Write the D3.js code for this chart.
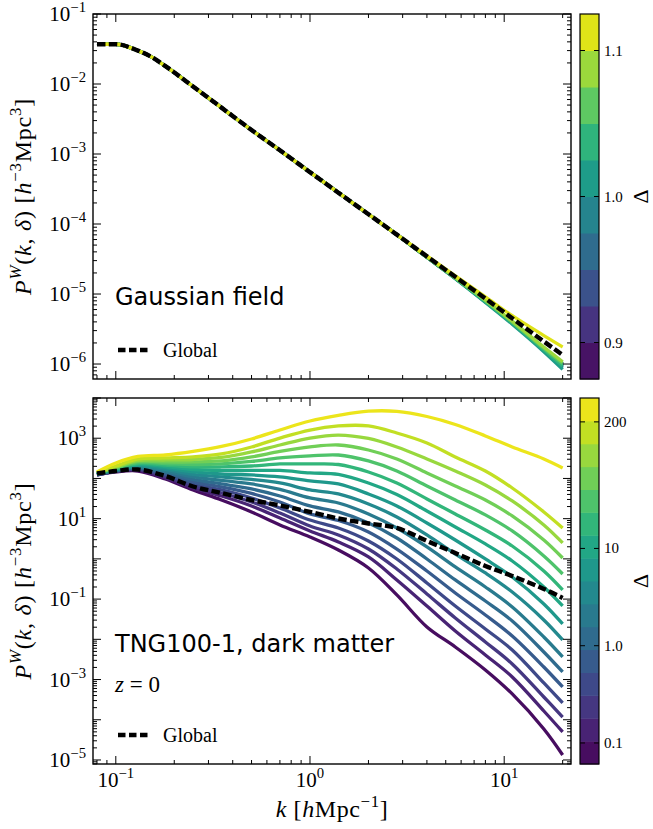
<!DOCTYPE html>
<html><head><meta charset="utf-8">
<script src="https://cdn.jsdelivr.net/npm/d3@7"></script>
<style>body{margin:0;background:#fff}svg{display:block}</style>
</head><body><svg id="c" width="653" height="829"></svg>
<script>
// ---------------- DATA ----------------
const kTop = [0.08, 0.1, 0.13, 0.15, 0.18, 0.25, 0.35, 0.5, 0.7, 1.0, 1.4, 2.0, 2.8, 4.0, 5.6, 8.0, 11, 16, 20];
const globalTop = [0.037, 0.037, 0.030, 0.025, 0.018, 0.0092, 0.0046, 0.0022, 0.00113, 0.00055, 0.00028, 0.000138, 0.0000705, 0.0000345, 0.0000176, 0.0000086, 0.0000045, 0.0000021, 0.00000135];
const topC0 = [0.037, 0.037, 0.030, 0.025, 0.018, 0.0092, 0.0046, 0.0022, 0.00113, 0.00055, 0.00028, 0.000138, 0.0000705, 3.38e-5, 1.70e-5, 8.0e-6, 4.0e-6, 1.66e-6, 1.0e-6];
const topC1 = [0.037, 0.037, 0.030, 0.025, 0.018, 0.0092, 0.0046, 0.0022, 0.00113, 0.00055, 0.00028, 0.000138, 0.0000705, 3.38e-5, 1.70e-5, 7.9e-6, 3.95e-6, 1.65e-6, 9.8e-7];
const topC2 = [0.037, 0.037, 0.030, 0.025, 0.018, 0.0092, 0.0046, 0.0022, 0.00113, 0.00055, 0.00028, 0.000138, 0.0000705, 3.37e-5, 1.69e-5, 7.9e-6, 3.9e-6, 1.62e-6, 9.5e-7];
const topC3 = [0.037, 0.037, 0.030, 0.025, 0.018, 0.0092, 0.0046, 0.0022, 0.00113, 0.00055, 0.00028, 0.000138, 0.0000705, 3.36e-5, 1.68e-5, 7.8e-6, 3.85e-6, 1.6e-6, 9.2e-7];
const topC4 = [0.037, 0.037, 0.030, 0.025, 0.018, 0.0092, 0.0046, 0.0022, 0.00113, 0.00055, 0.00028, 0.000138, 0.0000705, 3.35e-5, 1.67e-5, 7.7e-6, 3.8e-6, 1.56e-6, 8.9e-7];
const topC5 = [0.037, 0.037, 0.030, 0.025, 0.018, 0.0092, 0.0046, 0.0022, 0.00113, 0.00055, 0.00028, 0.000138, 0.0000705, 3.33e-5, 1.66e-5, 7.6e-6, 3.7e-6, 1.5e-6, 8.4e-7];
const topC6 = [0.037, 0.037, 0.030, 0.025, 0.018, 0.0092, 0.0046, 0.0022, 0.00113, 0.00055, 0.00028, 0.000138, 0.0000705, 3.35e-5, 1.68e-5, 7.8e-6, 3.85e-6, 1.6e-6, 9.4e-7];
const topC7 = [0.037, 0.037, 0.030, 0.025, 0.018, 0.0092, 0.0046, 0.0022, 0.00113, 0.00055, 0.00028, 0.000138, 0.0000705, 3.38e-5, 1.70e-5, 8.0e-6, 4.0e-6, 1.68e-6, 1.02e-6];
const topC8 = [0.037, 0.037, 0.030, 0.025, 0.018, 0.0092, 0.0046, 0.0022, 0.00113, 0.00055, 0.00028, 0.000138, 0.0000705, 3.4e-5, 1.72e-5, 8.2e-6, 4.1e-6, 1.75e-6, 1.08e-6];
const topC9 = [0.037, 0.037, 0.030, 0.025, 0.018, 0.0092, 0.0046, 0.0022, 0.00113, 0.00055, 0.00028, 0.000138, 0.0000705, 3.5e-5, 1.82e-5, 9.1e-6, 4.9e-6, 2.55e-6, 1.75e-6];
const topCurves = [topC0, topC1, topC2, topC3, topC4, topC5, topC6, topC7, topC8, topC9];
const topDeltaRange = [0.875, 1.125];
const topTickVals = [0.9, 1.0, 1.1];
const topTickLabels = ["0.9", "1.0", "1.1"];

const kBot = [0.08, 0.1, 0.13, 0.18, 0.25, 0.35, 0.5, 0.7, 1.0, 1.4, 2.0, 2.8, 4.0, 5.6, 8.0, 11, 16, 20];
const globalBot = [133, 153, 167, 115, 63.1, 43.5, 29.1, 21.3, 14.7, 10.1, 7.59, 5.87, 2.79, 1.40, 0.666, 0.376, 0.179, 0.107];
const botC0 = [122, 145, 153, 97.0, 51.7, 29.1, 14.7, 6.97, 3.50, 1.66, 0.594, 0.127, 0.0203, 0.00645, 0.00173, 0.000438, 0.0000590, 0.0000133];
const botC1 = [122, 149, 162, 103, 57.9, 36.6, 20.7, 10.4, 4.94, 2.63, 1.12, 0.299, 0.0674, 0.0161, 0.00408, 0.00116, 0.000165, 0.0000497];
const botC2 = [122, 149, 167, 112, 64.9, 43.5, 26.0, 13.8, 6.58, 3.93, 1.76, 0.561, 0.134, 0.0339, 0.00859, 0.00244, 0.000368, 0.000117];
const botC3 = [122, 153, 172, 122, 72.8, 51.7, 32.7, 18.4, 9.27, 5.87, 2.79, 0.994, 0.252, 0.0674, 0.0181, 0.00543, 0.000821, 0.000261];
const botC4 = [126, 153, 182, 129, 81.7, 61.3, 42.3, 26.0, 13.1, 9.01, 4.67, 1.76, 0.500, 0.142, 0.0403, 0.0121, 0.00205, 0.000653];
const botC5 = [126, 158, 187, 141, 94.2, 72.8, 54.7, 36.6, 20.7, 14.7, 7.81, 3.31, 0.994, 0.299, 0.0898, 0.0286, 0.00484, 0.00154];
const botC6 = [126, 162, 193, 153, 109, 89.0, 72.8, 53.2, 32.7, 24.5, 13.1, 5.87, 1.98, 0.629, 0.200, 0.0637, 0.0114, 0.00364];
const botC7 = [129, 162, 198, 167, 126, 109, 94.2, 77.1, 51.7, 41.1, 23.2, 11.0, 3.93, 1.32, 0.446, 0.150, 0.0303, 0.00963];
const botC8 = [129, 167, 210, 182, 145, 129, 122, 109, 86.5, 72.8, 41.1, 20.7, 7.81, 2.95, 0.994, 0.355, 0.0756, 0.0241];
const botC9 = [129, 172, 223, 198, 167, 158, 158, 158, 137, 126, 77.1, 39.9, 15.5, 6.21, 2.35, 0.887, 0.200, 0.0674];
const botC10 = [133, 177, 235, 216, 193, 193, 204, 229, 229, 222, 145, 77.1, 30.9, 13.1, 5.23, 2.09, 0.500, 0.169];
const botC11 = [133, 182, 249, 235, 222, 229, 264, 323, 362, 383, 272, 153, 64.9, 29.1, 12.4, 4.94, 1.18, 0.421];
const botC12 = [137, 187, 264, 257, 257, 272, 342, 468, 606, 679, 510, 305, 137, 64.9, 29.1, 11.7, 2.95, 1.05];
const botC13 = [137, 193, 280, 288, 296, 332, 455, 679, 1010, 1200, 985, 606, 305, 153, 68.8, 27.5, 6.97, 2.49];
const botC14 = [141, 204, 305, 323, 342, 406, 606, 1010, 1600, 2020, 2020, 1350, 762, 342, 153, 57.9, 14.7, 5.87];
const botC15 = [145, 242, 352, 383, 468, 623, 957, 1600, 2680, 3700, 4700, 4650, 3470, 2200, 1140, 606, 305, 182];
const botCurves = [botC0, botC1, botC2, botC3, botC4, botC5, botC6, botC7, botC8, botC9, botC10, botC11, botC12, botC13, botC14, botC15];
const botDeltaRange = [0.0608, 352];
const botTickVals = [0.1, 1, 10, 200];
const botTickLabels = ["0.1", "1.0", "10", "200"];

const xMajor = [0.1, 1, 10];
const xMajorExp = [-1, 0, 1];
const topYLabelExp = [-6, -5, -4, -3, -2, -1];
const botYLabelExp = [-5, -3, -1, 1, 3];

// ---------------- LAYOUT ----------------
const svg = d3.select("#c");
const SERIF = "'Liberation Serif', 'DejaVu Serif', serif";
const SANS = "'DejaVu Sans', sans-serif";
const L = 93, R = 571, T1 = 14, B1 = 379, T2 = 398, B2 = 764, CBL = 580, CBR = 599;

const x = d3.scaleLog().domain([0.07631, 22.08]).range([L, R]);
const yTop = d3.scaleLog().domain([6.11e-7, 0.1]).range([B1, T1]);
const yBot = d3.scaleLog().domain([7.94e-6, 1e4]).range([B2, T2]);

svg.append("rect").attr("width", 653).attr("height", 829).attr("fill", "#fff");

function richText(sel, parts, size) {
  let up = 0;
  parts.forEach(p => {
    const ts = sel.append("tspan").text(p.t);
    const target = p.sup ? -0.42 * size : 0;
    if (target !== up) { ts.attr("dy", target - up); up = target; }
    if (p.sup) ts.attr("font-size", size * 0.7);
    if (p.i) ts.attr("font-style", "italic");
  });
}
function expStr(e) { return e < 0 ? "\u2212" + (-e) : String(e); }

function minorsFor(lo, hi) {
  const out = [];
  for (let e = Math.floor(Math.log10(lo)) - 1; e <= Math.ceil(Math.log10(hi)); e++) {
    for (let m = 2; m <= 9; m++) { const v = m * Math.pow(10, e); if (v > lo && v < hi) out.push(v); }
  }
  return out;
}
function majorsFor(lo, hi) {
  const out = [];
  for (let e = Math.floor(Math.log10(lo)); e <= Math.ceil(Math.log10(hi)); e++) {
    const v = Math.pow(10, e); if (v >= lo * 0.999 && v <= hi * 1.001) out.push(v);
  }
  return out;
}

function drawPanel(y, T, B, curves, kArr, globalArr, nBins, id, curveType) {
  const g = svg.append("g");
  g.append("clipPath").attr("id", id).append("rect").attr("x", L).attr("y", T).attr("width", R - L).attr("height", B - T);
  const line = d3.line().x((d) => x(d[0])).y(d => y(d[1])).curve(curveType);
  const lg = g.append("g").attr("clip-path", `url(#${id})`);
  curves.forEach((arr, i) => {
    lg.append("path").attr("d", line(kArr.map((k, j) => [k, arr[j]])))
      .attr("fill", "none").attr("stroke", d3.interpolateViridis((i + 0.5) / nBins))
      .attr("stroke-width", 3.3).attr("stroke-linejoin", "round");
  });
  lg.append("path").attr("d", line(kArr.map((k, j) => [k, globalArr[j]])))
    .attr("fill", "none").attr("stroke", "#000").attr("stroke-width", 4.4)
    .attr("stroke-dasharray", "8.5,3.3");

  // ticks
  const tg = g.append("g").attr("stroke", "#000").attr("stroke-width", 1);
  const xd = x.domain(), yd = y.domain();
  const xt = (vals, len) => vals.forEach(v => {
    const px = x(v);
    tg.append("line").attr("x1", px).attr("x2", px).attr("y1", B).attr("y2", B - len);
    tg.append("line").attr("x1", px).attr("x2", px).attr("y1", T).attr("y2", T + len);
  });
  const yt = (vals, len) => vals.forEach(v => {
    const py = y(v);
    tg.append("line").attr("y1", py).attr("y2", py).attr("x1", L).attr("x2", L + len);
    tg.append("line").attr("y1", py).attr("y2", py).attr("x1", R).attr("x2", R - len);
  });
  xt(majorsFor(xd[0], xd[1]), 8);
  xt(minorsFor(xd[0], xd[1]), 4);
  yt(majorsFor(yd[0], yd[1]), 8);
  yt(minorsFor(yd[0], yd[1]), 4);

  g.append("rect").attr("x", L).attr("y", T).attr("width", R - L).attr("height", B - T)
    .attr("fill", "none").attr("stroke", "#000").attr("stroke-width", 1.4);
  return g;
}

function yLabels(y, exps) {
  exps.forEach(e => {
    const t = svg.append("text").attr("x", 86).attr("y", y(Math.pow(10, e)) + 7)
      .attr("text-anchor", "end").attr("font-family", SERIF).attr("font-size", 21);
    richText(t, [{ t: "10" }, { t: expStr(e), sup: true }], 21);
  });
}
function yAxisTitle(cy) {
  const t = svg.append("text").attr("transform", `translate(31,${cy}) rotate(-90)`)
    .attr("text-anchor", "middle").attr("font-family", SERIF).attr("font-size", 24)
    .attr("letter-spacing", 0.8);
  richText(t, [{ t: "P", i: true }, { t: "W", i: true, sup: true }, { t: "(" }, { t: "k", i: true },
    { t: ", " }, { t: "\u03b4", i: true }, { t: ")  [" }, { t: "h", i: true }, { t: "\u22123", sup: true },
    { t: "Mpc" }, { t: "3", sup: true }, { t: "]" }], 24);
}

function legend(yc) {
  svg.append("line").attr("x1", 118).attr("x2", 147.5).attr("y1", yc).attr("y2", yc)
    .attr("stroke", "#000").attr("stroke-width", 4.4).attr("stroke-dasharray", "7.5,3.5");
  svg.append("text").attr("x", 163).attr("y", yc + 6.5).attr("font-family", SERIF)
    .attr("font-size", 20).text("Global");
}

function colorbar(T, B, scale, nBins, edgesVal, tickVals, tickLabels, labelY) {
  const g = svg.append("g");
  for (let i = 0; i < nBins; i++) {
    const y0 = scale(edgesVal[i]), y1 = scale(edgesVal[i + 1]);
    g.append("rect").attr("x", CBL).attr("width", CBR - CBL).attr("y", Math.min(y0, y1))
      .attr("height", Math.abs(y1 - y0) + 0.5).attr("fill", d3.interpolateViridis((i + 0.5) / nBins));
  }
  g.append("rect").attr("x", CBL).attr("y", T).attr("width", CBR - CBL).attr("height", B - T)
    .attr("fill", "none").attr("stroke", "#000").attr("stroke-width", 1.2);
  tickVals.forEach((v, i) => {
    const py = scale(v);
    g.append("line").attr("x1", CBL).attr("x2", CBL + 5).attr("y1", py).attr("y2", py).attr("stroke", "#000").attr("stroke-width", 1);
    g.append("line").attr("x1", CBR).attr("x2", CBR - 5).attr("y1", py).attr("y2", py).attr("stroke", "#000").attr("stroke-width", 1);
    g.append("text").attr("x", 604).attr("y", py + 5).attr("font-family", SERIF).attr("font-size", 15).text(tickLabels[i]);
  });
  svg.append("text").attr("transform", `translate(648,${labelY}) rotate(-90)`).attr("text-anchor", "middle")
    .attr("font-family", SERIF).attr("font-size", 22).text("\u0394");
}

// ---------------- TOP PANEL ----------------
drawPanel(yTop, T1, B1, topCurves, kTop, globalTop, 10, "clipTop", d3.curveMonotoneX);
yLabels(yTop, topYLabelExp);
yAxisTitle((T1 + B1) / 2);
svg.append("text").attr("x", 115).attr("y", 305).attr("font-family", SANS).attr("font-size", 24).text("Gaussian field");
legend(350);
const cbTop = d3.scaleLinear().domain(topDeltaRange).range([B1, T1]);
const topEdges = d3.range(11).map(i => topDeltaRange[0] + i * (topDeltaRange[1] - topDeltaRange[0]) / 10);
colorbar(T1, B1, cbTop, 10, topEdges, topTickVals, topTickLabels, (T1 + B1) / 2);

// ---------------- BOTTOM PANEL ----------------
drawPanel(yBot, T2, B2, botCurves, kBot, globalBot, 16, "clipBot", d3.curveCatmullRom.alpha(0.5));
yLabels(yBot, botYLabelExp);
yAxisTitle((T2 + B2) / 2);
svg.append("text").attr("x", 115).attr("y", 652).attr("font-family", SANS).attr("font-size", 24).text("TNG100-1, dark matter");
{
  const t = svg.append("text").attr("x", 115).attr("y", 692).attr("font-family", SERIF).attr("font-size", 23);
  richText(t, [{ t: "z", i: true }, { t: " = 0" }], 23);
}
legend(735);
const cbBot = d3.scaleLog().domain(botDeltaRange).range([B2, T2]);
const lr = [Math.log10(botDeltaRange[0]), Math.log10(botDeltaRange[1])];
const botEdges = d3.range(17).map(i => Math.pow(10, lr[0] + i * (lr[1] - lr[0]) / 16));
colorbar(T2, B2, cbBot, 16, botEdges, botTickVals, botTickLabels, (T2 + B2) / 2);

// x tick labels + title
xMajor.forEach((v, i) => {
  const t = svg.append("text").attr("x", x(v)).attr("y", 787).attr("text-anchor", "middle")
    .attr("font-family", SERIF).attr("font-size", 21);
  richText(t, [{ t: "10" }, { t: expStr(xMajorExp[i]), sup: true }], 21);
});
{
  const t = svg.append("text").attr("x", (L + R) / 2).attr("y", 817).attr("text-anchor", "middle")
    .attr("font-family", SERIF).attr("font-size", 24).attr("letter-spacing", 0.6);
  richText(t, [{ t: "k", i: true }, { t: "  [" }, { t: "h", i: true }, { t: "Mpc" }, { t: "\u22121", sup: true }, { t: "]" }], 24);
}
</script></body></html>
